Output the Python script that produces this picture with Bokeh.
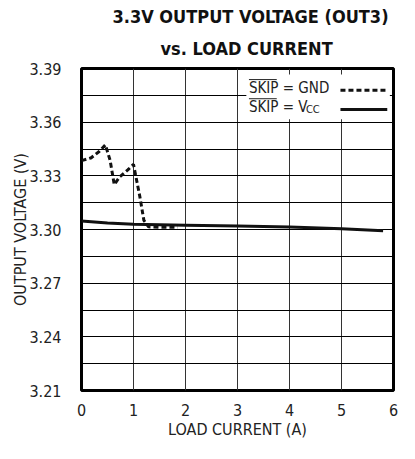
from bokeh.plotting import figure
from bokeh.models import FixedTicker, PrintfTickFormatter, ColumnDataSource, Title
from bokeh.core.properties import value
from bokeh.embed import file_html
from bokeh.resources import INLINE

FONT = "DejaVu Sans Condensed, Roboto"

# data
gnd_x = [0.0, 0.18, 0.34, 0.46, 0.55, 0.63, 0.74, 0.89, 1.0, 1.12, 1.2, 1.29, 1.5, 1.85]
gnd_v = [3.3385, 3.3400, 3.3436, 3.3473, 3.3387, 3.3251, 3.3296, 3.3333, 3.3364, 3.3187, 3.3051, 3.3015, 3.3013, 3.3012]
vcc_x = [0.0, 0.5, 1.0, 2.0, 3.0, 4.0, 5.0, 5.8]
vcc_v = [3.3048, 3.3037, 3.3029, 3.3024, 3.3019, 3.3014, 3.3004, 3.2993]
x_ticks = [0, 1, 2, 3, 4, 5, 6]
y_ticks = [3.21, 3.24, 3.27, 3.30, 3.33, 3.36, 3.39]
y_grid = [3.21 + 0.015 * i for i in range(13)]
title_line1 = "3.3V OUTPUT VOLTAGE (OUT3)"
title_line2 = "vs. LOAD CURRENT"
x_label = "LOAD CURRENT (A)"
y_label = "OUTPUT VOLTAGE (V)"
legend_labels = ["SKIP = GND", "SKIP = V"]

p = figure(width=399, height=443, x_range=(0, 6), y_range=(3.21, 3.39),
           output_backend="svg", toolbar_location=None,
           min_border_left=81, min_border_right=6, min_border_bottom=53, min_border_top=68)

def style_title(t):
    t.text_font = FONT
    t.text_font_style = "bold"
    t.text_font_size = "18px"
    t.text_color = "#111111"
    t.text_line_height = 0.85

p.title.text = title_line1
style_title(p.title)
p.title.align = "left"
p.title.offset = 31
p.title.standoff = 0
t2 = Title(text=title_line2, align="left", offset=79)
style_title(t2)
t2.standoff = 19
p.add_layout(t2, "above")

p.outline_line_color = "black"
p.outline_line_width = 3
p.background_fill_color = "white"
p.border_fill_color = "white"

for ax in (p.xaxis[0], p.yaxis[0]):
    ax.axis_line_color = None
    ax.major_tick_line_color = None
    ax.minor_tick_line_color = None
    ax.major_label_text_font = FONT
    ax.major_label_text_font_size = "16px"
    ax.major_label_text_color = "#222222"
    ax.axis_label_text_font = FONT
    ax.axis_label_text_font_size = "16px"
    ax.axis_label_text_font_style = "normal"
    ax.axis_label_text_color = "#222222"

p.xaxis.ticker = FixedTicker(ticks=x_ticks)
p.yaxis.ticker = FixedTicker(ticks=y_ticks)
p.yaxis.formatter = PrintfTickFormatter(format="%.2f")
p.xaxis.axis_label = x_label
p.yaxis.axis_label = y_label
p.xaxis.major_label_standoff = 7
p.xaxis.axis_label_standoff = 1
p.yaxis.major_label_standoff = 14
p.yaxis.axis_label_standoff = -4

p.xgrid.ticker = FixedTicker(ticks=x_ticks)
p.ygrid.ticker = FixedTicker(ticks=y_grid)
p.xgrid.grid_line_color = "#333333"
p.ygrid.grid_line_color = "black"
p.xgrid.grid_line_width = 1
p.ygrid.grid_line_width = 1

p.line(vcc_x, vcc_v, line_color="#111111", line_width=3)
p.line(gnd_x, gnd_v, line_color="#111111", line_width=3, line_dash="5 3")

# legend (drawn by hand: box, texts, samples)
p.quad(left=[3.17], right=[5.93], bottom=[3.3616], top=[3.3867],
       fill_color="white", line_color=None)
leg = ColumnDataSource(dict(x=[3.22, 3.22], y=[3.3790, 3.3685], t=legend_labels))
p.text(x="x", y="y", text="t", source=leg, text_font=value(FONT), text_font_size="15px",
       text_baseline="middle", text_align="left", text_color="#222222")
p.text(x=[3.22], y=[3.3685], text=["CC"], x_offset=57, y_offset=3, text_font=value(FONT),
       text_font_size="11px", text_baseline="middle", text_align="left", text_color="#222222")
p.segment(x0=[3.22, 3.22], y0=[3.3838, 3.3731], x1=[3.755, 3.755], y1=[3.3838, 3.3731],
          line_color="#222222", line_width=1)
p.line([4.98, 5.86], [3.3778, 3.3778], line_color="#111111", line_width=3, line_dash="5 3")
p.line([4.98, 5.88], [3.3671, 3.3671], line_color="#111111", line_width=3)

open("out.html", "w").write(file_html(p, INLINE))
